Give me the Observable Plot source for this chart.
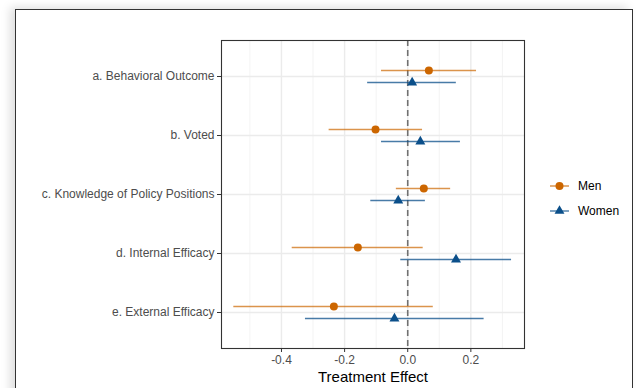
<!DOCTYPE html>
<html>
<head>
<meta charset="utf-8">
<script src="https://cdn.jsdelivr.net/npm/d3@7"></script>
<script src="https://cdn.jsdelivr.net/npm/@observablehq/plot@0.6"></script>
<style>
  html, body { margin: 0; padding: 0; background: #fff; width: 636px; height: 388px; overflow: hidden; }
  #frame { position: absolute; left: 15px; top: 9px; width: 616px; height: 400px; border: 1.5px solid #333; background: #fff; box-shadow: -5px -2px 9px rgba(0,0,0,0.13); }
  #chart { position: absolute; left: 0; top: 0; }
  #chart svg { background: transparent; }
</style>
</head>
<body>
<div id="frame"></div>
<div id="chart"></div>
<script>
const categories = ["a. Behavioral Outcome", "b. Voted", "c. Knowledge of Policy Positions", "d. Internal Efficacy", "e. External Efficacy"];
const groups = ["Men", "Women"];
const menEst = [0.067, -0.102, 0.051, -0.158, -0.234];
const menLo = [-0.083, -0.249, -0.036, -0.366, -0.551];
const menHi = [0.218, 0.047, 0.136, 0.049, 0.081];
const womenEst = [0.014, 0.040, -0.030, 0.153, -0.042];
const womenLo = [-0.127, -0.083, -0.117, -0.022, -0.324];
const womenHi = [0.154, 0.167, 0.056, 0.329, 0.242];
const xTicks = [-0.4, -0.2, 0.0, 0.2];
const xMinor = [-0.5, -0.3, -0.1, 0.1, 0.3];
const colors = {Men: "#cc6600", Women: "#0b4f8a"};

const men = categories.map((c, i) => ({cat: c, est: menEst[i], lo: menLo[i], hi: menHi[i]}));
const women = categories.map((c, i) => ({cat: c, est: womenEst[i], lo: womenLo[i], hi: womenHi[i]}));
const fmt = d => d.toFixed(1);

const plot = Plot.plot({
  width: 636, height: 388,
  marginLeft: 221, marginRight: 112, marginTop: 40, marginBottom: 40,
  style: {fontFamily: "'Liberation Sans', Arial, sans-serif", fontSize: "12px", background: "transparent"},
  x: {domain: [-0.59, 0.37], label: null},
  y: {type: "point", domain: categories, padding: 0.6, label: null},
  marks: [
    Plot.ruleX(xMinor, {stroke: "#f2f2f2", strokeWidth: 0.9}),
    Plot.ruleX(xTicks, {stroke: "#ebebeb", strokeWidth: 1.4}),
    Plot.ruleY(categories, {stroke: "#ebebeb", strokeWidth: 1.4}),
    Plot.ruleX([0], {stroke: "#707070", strokeWidth: 1.6, strokeDasharray: "6,4"}),
    Plot.ruleY(men, {y: "cat", x1: "lo", x2: "hi", dy: -6, stroke: colors.Men, strokeOpacity: 0.7, strokeWidth: 1.4}),
    Plot.ruleY(women, {y: "cat", x1: "lo", x2: "hi", dy: 6, stroke: colors.Women, strokeOpacity: 0.75, strokeWidth: 1.4}),
    Plot.dot(men, {x: "est", y: "cat", dy: -6, fill: colors.Men, r: 4, symbol: "circle"}),
    Plot.dot(women, {x: "est", y: "cat", dy: 6, fill: colors.Women, r: 3.7, symbol: "triangle"}),
    Plot.frame({stroke: "#333", strokeWidth: 1.1}),
    Plot.axisX({ticks: xTicks, tickFormat: fmt, tickSize: 4, tickPadding: 3, stroke: "#333", fill: "#4d4d4d", label: null}),
    Plot.axisY({tickSize: 4, tickPadding: 3, stroke: "#333", fill: "#4d4d4d", label: null}),
    Plot.text(["Treatment Effect"], {frameAnchor: "bottom", dy: 29, fontSize: 15, fill: "#000", lineAnchor: "middle"})
  ]
});
document.getElementById("chart").appendChild(plot);

// legend
const svg = d3.select(plot);
const lg = svg.append("g").attr("font-family", "'Liberation Sans', Arial, sans-serif").attr("font-size", 12).attr("text-anchor", "start");
groups.forEach((g, i) => {
  const y = 186 + i * 25;
  const row = lg.append("g").attr("transform", `translate(550,${y})`);
  row.append("line").attr("x1", 0).attr("x2", 19).attr("y1", 0).attr("y2", 0)
    .attr("stroke", colors[g]).attr("stroke-width", 1.4).attr("stroke-opacity", 0.75);
  if (g === "Men") {
    row.append("circle").attr("cx", 9.5).attr("cy", 0).attr("r", 4).attr("fill", colors[g]);
  } else {
    row.append("path").attr("d", d3.symbol(d3.symbolTriangle, 42)()).attr("transform", "translate(9.5,0)").attr("fill", colors[g]);
  }
  row.append("text").attr("x", 28).attr("y", 0).attr("dy", "0.35em").attr("fill", "#000").text(g);
});
</script>
</body>
</html>
